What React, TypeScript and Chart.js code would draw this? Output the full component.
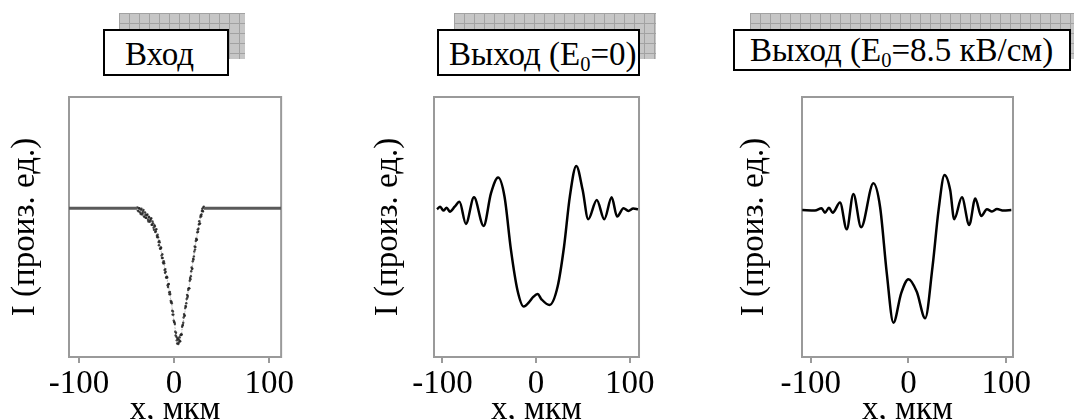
import React, { useEffect, useRef } from "react";
import { Chart, registerables } from "chart.js";
Chart.register(...registerables);

const FONT = "'Liberation Serif', 'Times New Roman', serif";
const FS = 33;

const X_TICKS = [-100, 0, 100];
const X_TICK_LABELS = ["-100", "0", "100"];
const X_TITLE = "x, мкм";
const Y_TITLE = "I (произ. ед.)";

// Panel 1: input
const IN_FLAT_LEFT_X = [-110.5, -39];
const IN_FLAT_RIGHT_X = [31.2, 112.5];
const IN_BASE_Y = [0.572, 0.572];
const IN_DOTS_X = [-38.5,-37.2,-36.4,-35.1,-34.3,-33.0,-32.2,-31.1,-30.0,-29.2,-28.1,-27.0,-26.2,-25.1,-24.0,-23.3,-22.1,-21.2,-20.3,-19.4,-18.6,-17.7,-16.9,-16.0,-15.2,-14.4,-13.6,-12.8,-12.0,-11.2,-10.4,-9.6,-8.8,-8.0,-7.2,-6.4,-5.6,-4.8,-4.0,-3.2,-2.4,-1.6,-0.8,0.0,0.8,1.6,2.4,3.2,4.0,4.8,5.6,6.4,7.2,8.0,8.8,9.6,10.4,11.2,12.0,12.8,13.6,14.4,15.2,16.0,16.8,17.6,18.4,19.2,20.0,20.8,21.6,22.4,23.2,24.0,24.8,25.6,26.4,27.2,28.0,28.8,29.6,30.4,31.2];
const IN_DOTS_Y = [0.575,0.560,0.571,0.550,0.570,0.554,0.566,0.538,0.547,0.536,0.548,0.521,0.537,0.526,0.534,0.508,0.514,0.489,0.503,0.483,0.492,0.461,0.461,0.430,0.441,0.416,0.420,0.381,0.381,0.360,0.361,0.324,0.328,0.306,0.306,0.269,0.281,0.241,0.242,0.210,0.207,0.163,0.163,0.135,0.127,0.083,0.078,0.052,0.068,0.055,0.076,0.061,0.087,0.087,0.121,0.132,0.165,0.160,0.196,0.207,0.239,0.235,0.264,0.264,0.304,0.311,0.344,0.340,0.378,0.387,0.425,0.423,0.455,0.451,0.490,0.493,0.522,0.514,0.545,0.548,0.570,0.560,0.578];
const IN_DOTS2_X = [-38.1,-36.8,-35.6,-34.7,-33.6,-32.6,-31.6,-30.5,-29.6,-28.6,-27.5,-26.6,-25.6,-24.5,-23.6,-22.7,-21.6,-20.7,-19.8,-19.0,-18.1,-17.3,-16.4,-15.6,-14.8,-14.0,-13.2,-12.4,-11.6,-10.8,-10.0,-9.2,-8.4,-7.6,-6.8,-6.0,-5.2,-4.4,-3.6,-2.8,-2.0,-1.2,-0.4,0.4,1.2,2.0,2.8,3.6,4.4,5.2,6.0,6.8,7.6,8.4,9.2,10.0,10.8,11.6,12.4,13.2,14.0,14.8,15.6,16.4,17.2,18.0,18.8,19.6,20.4,21.2,22.0,22.8,23.6,24.4,25.2,26.0,26.8,27.6,28.4,29.2,30.0,30.8];
const IN_DOTS2_Y = [0.563,0.572,0.556,0.566,0.548,0.561,0.541,0.556,0.535,0.546,0.528,0.540,0.520,0.531,0.509,0.521,0.497,0.507,0.481,0.490,0.466,0.470,0.442,0.446,0.417,0.421,0.390,0.395,0.364,0.368,0.335,0.338,0.306,0.309,0.276,0.280,0.248,0.250,0.216,0.213,0.178,0.175,0.140,0.133,0.097,0.093,0.064,0.072,0.050,0.066,0.060,0.084,0.086,0.116,0.123,0.152,0.158,0.188,0.193,0.223,0.229,0.258,0.264,0.293,0.299,0.330,0.338,0.368,0.375,0.406,0.413,0.446,0.451,0.480,0.482,0.510,0.512,0.538,0.541,0.562,0.562,0.575];

// Panel 2: output, E0 = 0
const OUT0_X = [-105.8,-102.4,-99.0,-95.5,-92.1,-86.9,-81.8,-74.9,-66.3,-56.0,-48.1,-40.5,-33.7,-26.8,-19.9,-13.1,-7.9,-2.7,1.7,5.8,14.4,23.0,29.9,36.1,43.0,49.8,55.7,64.9,72.9,80.8,86.6,93.5,98.6,103.8,108.9];
const OUT0_Y = [0.568,0.578,0.563,0.574,0.559,0.578,0.597,0.512,0.614,0.504,0.630,0.690,0.617,0.412,0.258,0.194,0.209,0.232,0.242,0.222,0.200,0.270,0.424,0.617,0.735,0.642,0.530,0.604,0.530,0.614,0.540,0.572,0.562,0.571,0.568];

// Panel 3: output, E0 = 8.5 kV/cm
const OUT85_X = [-108.7,-95.7,-88.9,-85.5,-81.4,-77.6,-70.1,-63.2,-56.4,-48.5,-35.9,-29.1,-22.2,-15.4,-7.5,0.0,8.5,17.1,24.6,30.8,36.9,42.7,46.8,54.7,62.2,68.4,74.5,80.3,85.5,90.6,97.4,105.3];
const OUT85_Y = [0.565,0.563,0.572,0.555,0.574,0.555,0.594,0.491,0.627,0.499,0.668,0.578,0.322,0.132,0.245,0.299,0.251,0.149,0.347,0.565,0.700,0.642,0.530,0.614,0.508,0.610,0.542,0.568,0.560,0.569,0.563,0.565];

const pts = (xs: number[], ys: number[]) => xs.map((x, i) => ({ x, y: ys[i] }));

const boxPlugin = {
  id: "boxPlugin",
  beforeDatasetsDraw(chart: any) {
    const { ctx, chartArea: a } = chart;
    ctx.save();
    ctx.strokeStyle = "#9a9a9a";
    ctx.lineWidth = 2;
    ctx.strokeRect(a.left, a.top, a.right - a.left, a.bottom - a.top);
    ctx.restore();
  },
};

type PanelProps = {
  left: number;
  width: number;
  yWidth: number;
  padRight: number;
  yTitlePad: number;
  xMin: number;
  xMax: number;
  datasets: any[];
};

function Panel(p: PanelProps) {
  const ref = useRef<HTMLCanvasElement>(null);
  useEffect(() => {
    const font = { family: FONT, size: FS, lineHeight: 1 };
    const chart = new Chart(ref.current!, {
      type: "scatter",
      data: { datasets: p.datasets },
      plugins: [boxPlugin],
      options: {
        animation: false,
        responsive: false,
        maintainAspectRatio: false,
        layout: { padding: { top: 17, right: p.padRight, left: 0, bottom: 0 } },
        plugins: { legend: { display: false }, tooltip: { enabled: false } },
        scales: {
          x: {
            type: "linear",
            min: p.xMin,
            max: p.xMax,
            afterBuildTicks: (s: any) => {
              s.ticks = X_TICKS.map((v) => ({ value: v }));
            },
            afterFit: (s: any) => {
              s.height = 83;
            },
            ticks: {
              callback: (v: any) => X_TICK_LABELS[X_TICKS.indexOf(Number(v))],
              font,
              color: "#000",
              padding: 5,
              maxRotation: 0,
              autoSkip: false,
            },
            grid: {
              display: true,
              drawOnChartArea: false,
              drawTicks: true,
              tickLength: 6,
              color: "#9a9a9a",
              lineWidth: 2,
            },
            border: { display: false },
            title: {
              display: true,
              text: X_TITLE,
              color: "#000",
              font,
              padding: { top: 0, bottom: 13 },
            },
          },
          y: {
            type: "linear",
            min: 0,
            max: 1,
            afterFit: (s: any) => {
              s.width = p.yWidth;
            },
            ticks: { display: false },
            grid: { display: false },
            border: { display: false },
            title: {
              display: true,
              text: Y_TITLE,
              color: "#000",
              font,
              padding: { top: p.yTitlePad, bottom: 0 },
            },
          },
        },
      },
    });
    return () => chart.destroy();
  }, []);
  return (
    <canvas
      ref={ref}
      width={p.width}
      height={360}
      style={{ position: "absolute", left: p.left, top: 80, width: p.width, height: 360, display: "block" }}
    />
  );
}

function TitleBox(props: {
  shadow: [number, number, number, number];
  box: [number, number, number, number];
  textLeft: number;
  textTop: number;
  children: any;
}) {
  const [sl, st, sw, sh] = props.shadow;
  const [bl, bt, bw, bh] = props.box;
  return (
    <>
      <div
        style={{
          position: "absolute",
          left: sl,
          top: st,
          width: sw,
          height: sh,
          backgroundColor: "#c6c6c6",
          backgroundImage:
            "linear-gradient(#a2a2a2 1px, transparent 1px), linear-gradient(90deg, #a2a2a2 1px, transparent 1px)",
          backgroundSize: "10px 10px",
        }}
      />
      <div
        style={{
          position: "absolute",
          left: bl,
          top: bt,
          width: bw,
          height: bh,
          boxSizing: "border-box",
          border: "2px solid #000",
          background: "#fff",
        }}
      />
      <div
        style={{
          position: "absolute",
          left: props.textLeft,
          top: props.textTop,
          fontFamily: FONT,
          fontSize: FS,
          lineHeight: FS + "px",
          whiteSpace: "nowrap",
          color: "#000",
        }}
      >
        {props.children}
      </div>
    </>
  );
}

const Sub = () => (
  <span style={{ fontSize: "0.62em", position: "relative", top: "0.3em" }}>0</span>
);

export default function App() {
  const dotColor = "rgba(35,35,35,0.85)";
  const dots = (xs: number[], ys: number[]) => ({
    data: pts(xs, ys),
    showLine: true,
    borderColor: "rgba(110,110,110,0.45)",
    borderWidth: 1,
    borderDash: [1, 2],
    pointRadius: 1.2,
    pointBackgroundColor: dotColor,
    pointBorderWidth: 0,
  });
  const ds1 = [
    { data: pts(IN_FLAT_LEFT_X, IN_BASE_Y), showLine: true, borderColor: "#5a5a5a", borderWidth: 3, pointRadius: 0 },
    { data: pts(IN_FLAT_RIGHT_X, IN_BASE_Y), showLine: true, borderColor: "#5a5a5a", borderWidth: 3, pointRadius: 0 },
    dots(IN_DOTS_X, IN_DOTS_Y),
    dots(IN_DOTS2_X, IN_DOTS2_Y),
  ];
  const ds2 = [
    { data: pts(OUT0_X, OUT0_Y), showLine: true, borderColor: "#000", borderWidth: 2.5, pointRadius: 0, cubicInterpolationMode: "monotone" },
  ];
  const ds3 = [
    { data: pts(OUT85_X, OUT85_Y), showLine: true, borderColor: "#000", borderWidth: 2.5, pointRadius: 0, cubicInterpolationMode: "monotone" },
  ];
  return (
    <div style={{ position: "fixed", left: 0, top: 0, width: 1074, height: 419, overflow: "hidden", background: "#fff" }}>
      <TitleBox shadow={[119, 13, 126, 46]} box={[103, 29, 126, 47]} textLeft={125} textTop={38}>
        Вход
      </TitleBox>
      <TitleBox shadow={[454, 13, 202, 46]} box={[437, 29, 203, 47]} textLeft={449} textTop={38}>
        Выход (E<Sub />=0)
      </TitleBox>
      <TitleBox shadow={[750, 13, 340, 46]} box={[733, 29, 338, 42]} textLeft={750} textTop={34}>
        Выход (E<Sub />=8.5 кВ/см)
      </TitleBox>
      <Panel left={0} width={300} yWidth={69} padRight={18} yTitlePad={8.5} xMin={-110.5} xMax={112.5} datasets={ds1} />
      <Panel left={360} width={300} yWidth={74} padRight={13} yTitlePad={11.5} xMin={-109} xMax={110} datasets={ds2} />
      <Panel left={730} width={344} yWidth={72} padRight={61} yTitlePad={7.5} xMin={-109} xMax={107} datasets={ds3} />
    </div>
  );
}
